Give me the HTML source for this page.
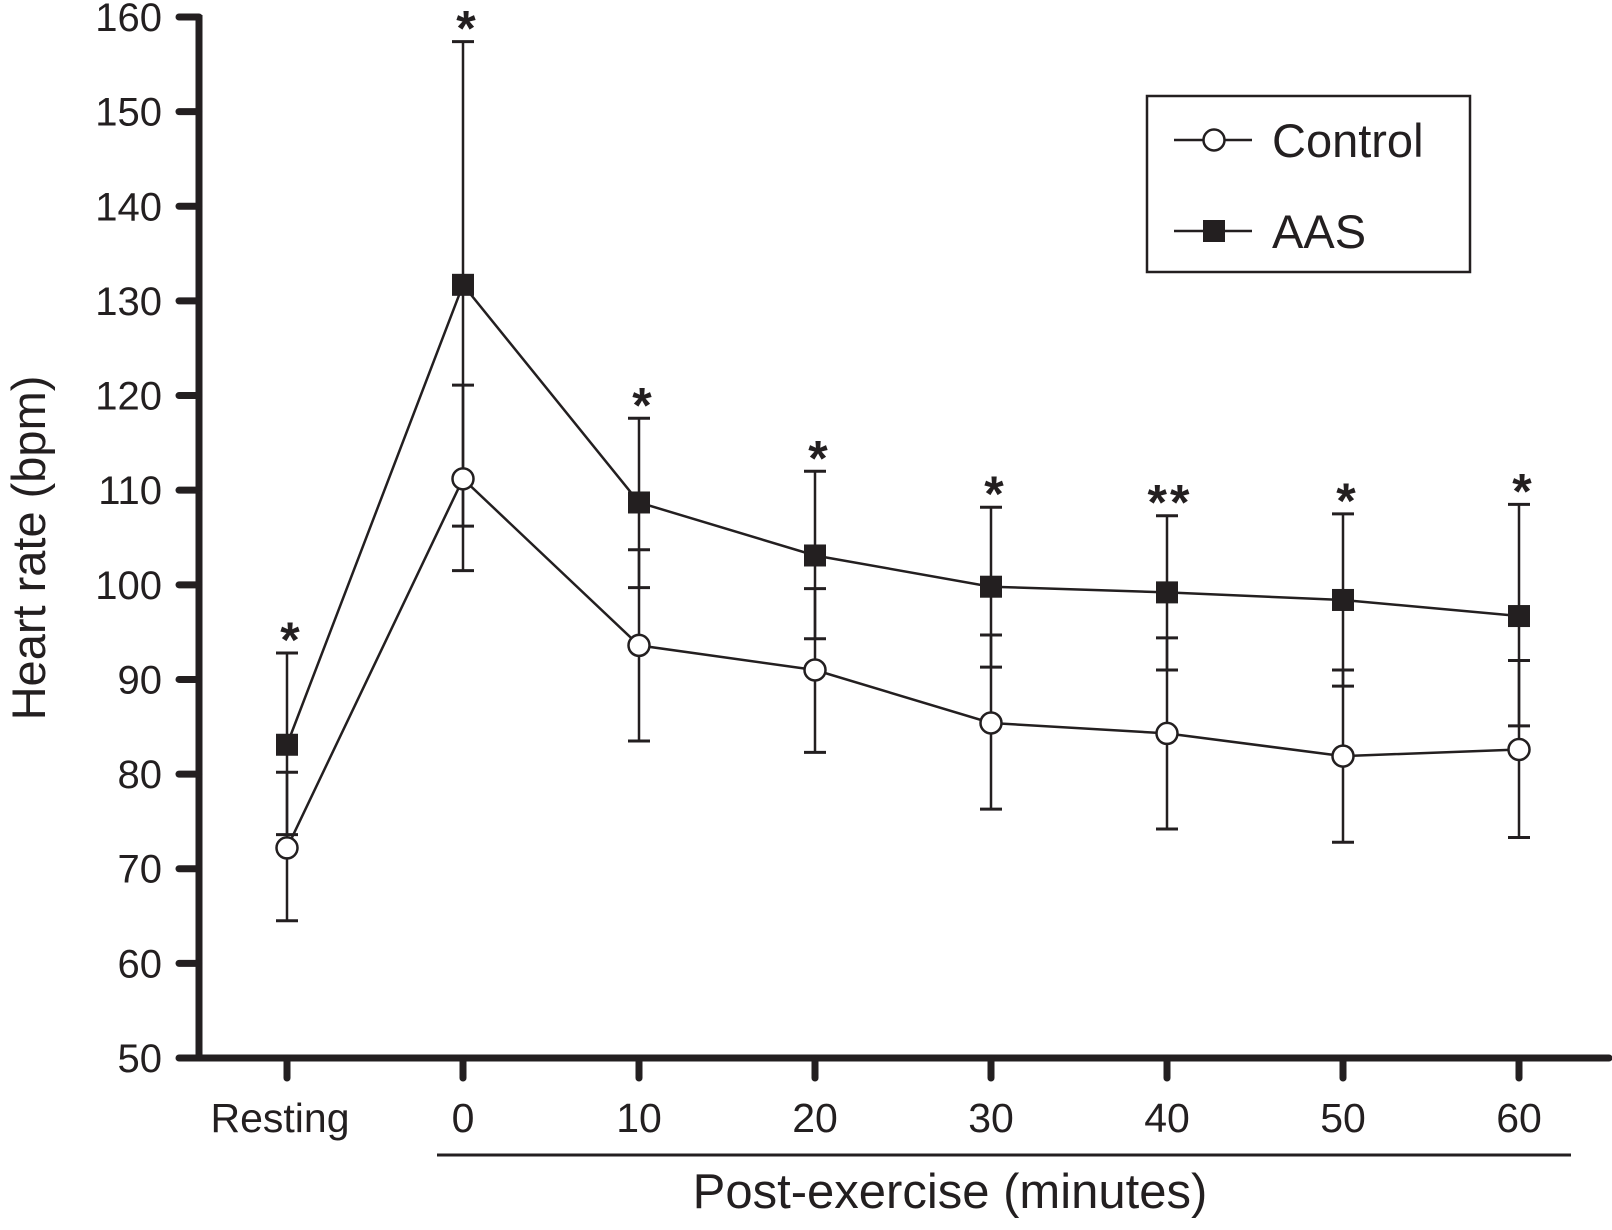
<!DOCTYPE html>
<html><head><meta charset="utf-8"><style>
html,body{margin:0;padding:0;background:#fff;}
svg{display:block;font-family:"Liberation Sans",Arial,sans-serif;}
</style></head><body>
<svg id="chart" width="1612" height="1230" viewBox="0 0 1612 1230"></svg>
<script>
const categories = ["Resting","0","10","20","30","40","50","60"];
const controlMean = [72.2,111.2,93.6,91.0,85.4,84.3,81.9,82.6];
const controlUpper = [80.2,121.1,103.7,99.6,94.7,94.4,91.0,92.0];
const controlLower = [64.5,101.5,83.5,82.3,76.3,74.2,72.8,73.3];
const aasMean = [83.1,131.7,108.7,103.1,99.8,99.2,98.4,96.7];
const aasUpper = [92.8,157.4,117.6,112.0,108.2,107.3,107.5,108.5];
const aasLower = [73.6,106.2,99.7,94.3,91.3,91.0,89.3,85.1];
const significance = ["*","*","*","*","*","**","*","*"];
const yTicks = [50,60,70,80,90,100,110,120,130,140,150,160];

const NS="http://www.w3.org/2000/svg";
const svg=document.getElementById('chart');
function yScale(v){return 1058-(v-50)*(1058-17)/110;}
function xScale(i){return 287+i*176;}
function mk(tag,attrs,parent){const e=document.createElementNS(NS,tag);for(const k in attrs)e.setAttribute(k,attrs[k]);(parent||svg).appendChild(e);return e;}

const ax=mk('g',{});


mk('line',{x1:199,y1:15,x2:199,y2:1060,stroke:'#231f20','stroke-width':7},ax);
mk('line',{x1:196,y1:1058,x2:1609,y2:1058,stroke:'#231f20','stroke-width':7,'stroke-linecap':'round'},ax);
yTicks.forEach(v=>{
  const y=yScale(v);
  mk('line',{x1:179,y1:y,x2:199,y2:y,stroke:'#231f20','stroke-width':7,'stroke-linecap':'round'},ax);
  const t=mk('text',{x:162,y:y+14,'text-anchor':'end','font-size':40,fill:'#231f20'},ax);
  t.textContent=v;
  
  
});
categories.forEach((c,i)=>{
  const x=xScale(i);
  mk('line',{x1:x,y1:1058,x2:x,y2:1078,stroke:'#231f20','stroke-width':7,'stroke-linecap':'round'},ax);
  const t=mk('text',{x:x-7*(i===0),y:1132,'text-anchor':'middle','font-size':41,fill:'#231f20'},ax);
  t.textContent=c;
  
  
});
mk('line',{x1:437,y1:1155,x2:1571,y2:1155,stroke:'#231f20','stroke-width':3},ax);
const xt=mk('text',{x:950,y:1208,'text-anchor':'middle','font-size':49,fill:'#231f20'});
xt.textContent='Post-exercise (minutes)';


const yt=mk('text',{x:0,y:0,'text-anchor':'middle','font-size':47,fill:'#231f20',transform:'translate(45,548) rotate(-90)'});
yt.textContent='Heart rate (bpm)';



function errBars(upper,lower,name){
  const g=mk('g',{});
  
  
  categories.forEach((c,i)=>{
    const x=xScale(i);
    mk('line',{x1:x,y1:yScale(upper[i]),x2:x,y2:yScale(lower[i]),stroke:'#231f20','stroke-width':2.5},g);
    [upper[i],lower[i]].forEach(v=>{
      mk('line',{x1:x-11,y1:yScale(v),x2:x+11,y2:yScale(v),stroke:'#231f20','stroke-width':3},g);
    });
  });
}
errBars(aasUpper,aasLower,'aas-error-bars');
errBars(controlUpper,controlLower,'control-error-bars');

function linePath(vals){return vals.map((v,i)=>(i?'L':'M')+xScale(i)+','+yScale(v)).join(' ');}
const la=mk('path',{d:linePath(aasMean),fill:'none',stroke:'#231f20','stroke-width':2.5});


const lc=mk('path',{d:linePath(controlMean),fill:'none',stroke:'#231f20','stroke-width':2.5});



aasMean.forEach((v,i)=>{
  const r=mk('rect',{x:xScale(i)-11,y:yScale(v)-11,width:22,height:22,fill:'#231f20'});
  
  
});
controlMean.forEach((v,i)=>{
  const c=mk('circle',{cx:xScale(i),cy:yScale(v),r:10.5,fill:'#fff',stroke:'#231f20','stroke-width':2.5});
  
  
});
significance.forEach((s,i)=>{
  const t=mk('text',{x:xScale(i)+3,y:yScale(aasUpper[i])+4,'text-anchor':'middle','font-size':50,'font-weight':'bold',fill:'#231f20','letter-spacing':s.length>1?3:0});
  t.textContent=s;
  
  
});

const lg=mk('g',{});


mk('rect',{x:1147,y:96,width:323,height:176,fill:'#fff',stroke:'#231f20','stroke-width':2.5},lg);
mk('line',{x1:1174,y1:140,x2:1252,y2:140,stroke:'#231f20','stroke-width':2.5},lg);
mk('circle',{cx:1214,cy:140,r:10.5,fill:'#fff',stroke:'#231f20','stroke-width':2.5},lg);
const l1=mk('text',{x:1272,y:157,'font-size':47,fill:'#231f20'},lg);
l1.textContent='Control';


mk('line',{x1:1174,y1:231,x2:1252,y2:231,stroke:'#231f20','stroke-width':2.5},lg);
mk('rect',{x:1203,y:220,width:22,height:22,fill:'#231f20'},lg);
const l2=mk('text',{x:1272,y:248,'font-size':47,fill:'#231f20'},lg);
l2.textContent='AAS';


</script>
</body></html>
